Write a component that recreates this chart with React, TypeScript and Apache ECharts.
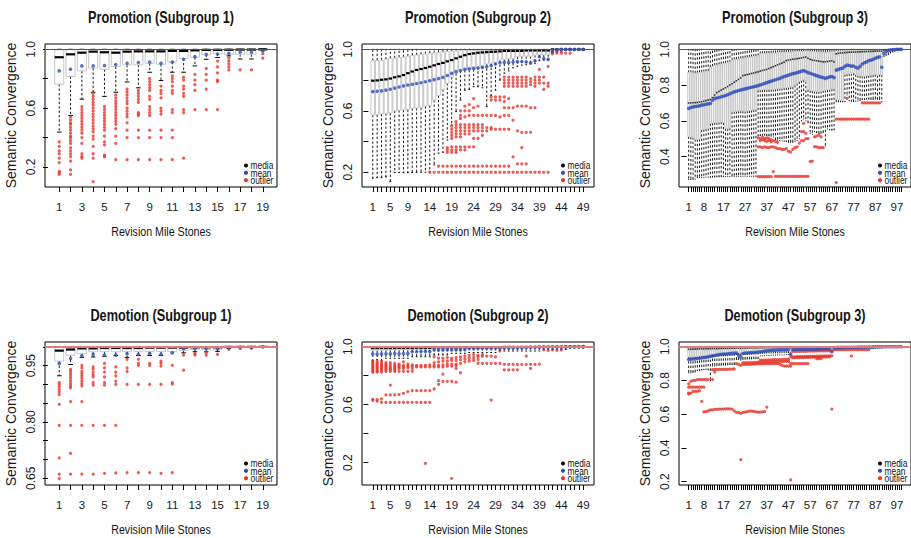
import React, { useEffect, useRef } from "react";
import * as echarts from "echarts";

// ---------------- text ----------------
const TITLES = [
  "Promotion (Subgroup 1)", "Promotion (Subgroup 2)", "Promotion (Subgroup 3)",
  "Demotion (Subgroup 1)", "Demotion (Subgroup 2)", "Demotion (Subgroup 3)",
];
const X_TITLE = "Revision Mile Stones";
const Y_TITLE = "Semantic Convergence";
const LEGEND_ITEMS = ["median", "mean", "outlier"];

// ---------------- axis ticks ----------------
const X_LABELS_19 = [1, 3, 5, 7, 9, 11, 13, 15, 17, 19];
const X_LABELS_49 = [1, 5, 9, 14, 19, 24, 29, 34, 39, 44, 49];
const X_LABELS_99 = [1, 8, 17, 27, 37, 47, 57, 67, 77, 87, 97];
const Y_TICKS_02 = [0.2, 0.4, 0.6, 0.8, 1.0];
const Y_LABELS_02_SPARSE = [0.2, 0.6, 1.0];
const Y_TICKS_P3 = [0.4, 0.6, 0.8, 1.0];
const Y_TICKS_P4 = [0.65, 0.7, 0.75, 0.8, 0.85, 0.9, 0.95, 1.0];
const Y_LABELS_P4 = [0.65, 0.8, 0.95];

// upper whiskers reach 1.0 in every box of every panel
const UPPER_WHISKER = 1.0;
const REFERENCE_LEVEL = 1.0;

// ---------------- Promotion (Subgroup 1) ----------------
const P1_LOW = [0.437, 0.55, 0.661, 0.708, 0.68, 0.708, 0.778, 0.738, 0.844, 0.788, 0.844, 0.844, 0.887, 0.932, 0.944, 0.955, 0.934, 0.934, 0.99];
const P1_Q1 = [0.763, 0.815, 0.853, 0.873, 0.864, 0.882, 0.894, 0.894, 0.905, 0.898, 0.914, 0.937, 0.946, 0.962, 0.97, 0.966, 0.966, 0.966, 0.993];
const P1_MED = [0.946, 0.966, 0.977, 0.984, 0.98, 0.977, 0.984, 0.986, 0.986, 0.986, 0.989, 0.989, 0.993, 0.996, 0.996, 0.997, 0.998, 0.998, 1.0];
const P1_Q3 = [0.996, 0.997, 0.998, 0.998, 0.998, 0.998, 0.999, 0.999, 0.999, 0.999, 1, 1, 1, 1, 1, 1, 1, 1, 1];
const P1_MEAN = [0.853, 0.864, 0.887, 0.887, 0.89, 0.896, 0.905, 0.91, 0.914, 0.905, 0.914, 0.932, 0.95, 0.966, 0.968, 0.973, 0.98, 0.98, 0.99];
const P1_OUT = [
  [0.37, 0.34, 0.31, 0.29, 0.26, 0.23, 0.17, 0.16, 0.15],
  [0.54, 0.52, 0.5, 0.49, 0.47, 0.45, 0.43, 0.41, 0.4, 0.38, 0.36, 0.33, 0.31, 0.29, 0.27, 0.24, 0.18, 0.15],
  [0.61, 0.59, 0.57, 0.55, 0.53, 0.51, 0.49, 0.47, 0.45, 0.43, 0.4, 0.36, 0.29, 0.27, 0.26],
  [0.7, 0.68, 0.66, 0.64, 0.62, 0.6, 0.58, 0.56, 0.54, 0.52, 0.5, 0.48, 0.46, 0.44, 0.41, 0.39, 0.34, 0.29, 0.26, 0.1],
  [0.61, 0.59, 0.57, 0.55, 0.53, 0.51, 0.49, 0.47, 0.45, 0.41, 0.37, 0.35, 0.28, 0.27],
  [0.69, 0.67, 0.65, 0.63, 0.61, 0.59, 0.57, 0.55, 0.53, 0.51, 0.49, 0.46, 0.41, 0.36, 0.25],
  [0.73, 0.71, 0.69, 0.67, 0.65, 0.63, 0.6, 0.58, 0.56, 0.54, 0.5, 0.45, 0.4, 0.25],
  [0.72, 0.7, 0.68, 0.66, 0.64, 0.57, 0.56, 0.55, 0.45, 0.4, 0.25],
  [0.8, 0.78, 0.76, 0.74, 0.72, 0.68, 0.66, 0.61, 0.59, 0.57, 0.55, 0.45, 0.4, 0.25],
  [0.75, 0.72, 0.7, 0.67, 0.6, 0.58, 0.56, 0.45, 0.4, 0.25],
  [0.82, 0.8, 0.78, 0.75, 0.72, 0.7, 0.59, 0.57, 0.45, 0.4, 0.25],
  [0.81, 0.79, 0.75, 0.73, 0.7, 0.68, 0.59, 0.57, 0.26],
  [0.83, 0.79, 0.76, 0.72, 0.59],
  [0.87, 0.83, 0.79, 0.73, 0.59],
  [0.92, 0.88, 0.84, 0.79, 0.78, 0.59],
  [0.94, 0.92, 0.9, 0.88, 0.86],
  [0.86],
  [0.86],
  [0.97, 0.94],
];

// ---------------- Promotion (Subgroup 2) ----------------
const P2_LOW = [0.161, 0.165, 0.165, 0.17, 0.139, 0.198, 0.198, 0.198, 0.198, 0.198, 0.2, 0.2, 0.2, 0.202, 0.248, 0.324, 0.33, 0.41, 0.508, 0.595, 0.67, 0.735, 0.74, 0.757, 0.757, 0.75, 0.627, 0.7, 0.735, 0.8, 0.845, 0.86, 0.88, 0.89, 0.898, 0.9, 0.905, 0.91, 0.926, 0.93, 0.935, 0.99, 1, 1, 1, 1, 1, 1, 1];
const P2_Q1 = [0.573, 0.575, 0.58, 0.584, 0.586, 0.6, 0.604, 0.606, 0.61, 0.616, 0.618, 0.62, 0.63, 0.635, 0.67, 0.7, 0.74, 0.78, 0.82, 0.844, 0.86, 0.865, 0.866, 0.87, 0.885, 0.89, 0.905, 0.91, 0.915, 0.93, 0.935, 0.94, 0.94, 0.952, 0.955, 0.955, 0.955, 0.963, 0.965, 0.965, 0.968, 0.995, 1, 1, 1, 1, 1, 1, 1];
const P2_MED = [0.796, 0.798, 0.802, 0.805, 0.81, 0.818, 0.824, 0.833, 0.845, 0.856, 0.866, 0.872, 0.879, 0.887, 0.896, 0.905, 0.912, 0.922, 0.93, 0.942, 0.952, 0.962, 0.97, 0.974, 0.978, 0.98, 0.982, 0.984, 0.985, 0.987, 0.99, 0.99, 0.99, 0.99, 0.99, 0.993, 0.993, 0.993, 0.993, 0.993, 0.993, 1, 1, 1, 1, 1, 1, 1, 1];
const P2_Q3 = [0.926, 0.928, 0.93, 0.935, 0.94, 0.943, 0.947, 0.95, 0.955, 0.96, 0.963, 0.966, 0.97, 0.974, 0.977, 0.979, 0.982, 0.985, 0.988, 0.99, 0.993, 0.993, 0.993, 0.993, 0.993, 0.993, 0.993, 0.996, 0.996, 0.996, 0.996, 0.996, 0.996, 0.996, 0.996, 0.996, 0.996, 0.996, 0.996, 0.996, 0.996, 1, 1, 1, 1, 1, 1, 1, 1];
const P2_MEAN = [0.725, 0.727, 0.73, 0.735, 0.74, 0.748, 0.755, 0.762, 0.768, 0.773, 0.778, 0.783, 0.789, 0.796, 0.803, 0.81, 0.818, 0.83, 0.844, 0.855, 0.862, 0.87, 0.874, 0.876, 0.879, 0.883, 0.887, 0.895, 0.905, 0.913, 0.915, 0.915, 0.918, 0.92, 0.921, 0.918, 0.913, 0.926, 0.952, 0.94, 0.935, 0.985, 0.995, 1, 1, 1, 1, 1, 1];
const P2_OUT = [
  [], [], [], [], [], [], [], [], [], [], [], [], [],
  [0.2],
  [0.2],
  [0.24, 0.2],
  [0.24, 0.2],
  [0.36, 0.345, 0.33, 0.24, 0.2],
  [0.5, 0.48, 0.46, 0.44, 0.42, 0.365, 0.345, 0.33, 0.24, 0.2],
  [0.53, 0.51, 0.49, 0.47, 0.45, 0.43, 0.365, 0.345, 0.33, 0.24, 0.2],
  [0.6, 0.57, 0.55, 0.51, 0.49, 0.47, 0.45, 0.43, 0.365, 0.345, 0.24, 0.2],
  [0.63, 0.6, 0.56, 0.51, 0.49, 0.47, 0.45, 0.365, 0.345, 0.24, 0.2],
  [0.64, 0.6, 0.57, 0.51, 0.49, 0.47, 0.45, 0.365, 0.24, 0.2],
  [0.68, 0.62, 0.57, 0.51, 0.49, 0.47, 0.42, 0.365, 0.24, 0.2],
  [0.63, 0.57, 0.51, 0.49, 0.47, 0.42, 0.24, 0.2],
  [0.57, 0.51, 0.49, 0.47, 0.44, 0.24, 0.2],
  [0.57, 0.49, 0.47, 0.24, 0.2],
  [0.69, 0.67, 0.57, 0.49, 0.48, 0.24, 0.2],
  [0.69, 0.67, 0.57, 0.48, 0.24, 0.2],
  [0.69, 0.67, 0.56, 0.48, 0.24, 0.2],
  [0.82, 0.8, 0.78, 0.76, 0.69, 0.66, 0.62, 0.57, 0.48, 0.24, 0.2],
  [0.82, 0.8, 0.78, 0.76, 0.68, 0.62, 0.57, 0.48, 0.24, 0.2],
  [0.82, 0.8, 0.78, 0.76, 0.62, 0.54, 0.3, 0.2],
  [0.82, 0.8, 0.78, 0.76, 0.63, 0.47, 0.255, 0.2],
  [0.82, 0.8, 0.78, 0.76, 0.63, 0.46, 0.36, 0.255, 0.2],
  [0.82, 0.8, 0.78, 0.76, 0.63, 0.46, 0.255, 0.2],
  [0.81, 0.79, 0.77, 0.62, 0.46, 0.2],
  [0.82, 0.8, 0.78, 0.76, 0.62, 0.2],
  [0.87, 0.82, 0.8, 0.78, 0.2],
  [0.82, 0.78, 0.74, 0.2],
  [0.89, 0.78, 0.76, 0.2],
  [0.97, 0.98],
  [0.975, 0.985],
  [0.975, 0.985],
  [0.975],
  [0.975],
  [], [], [],
];

// ---------------- Promotion (Subgroup 3) ----------------
const P3_LOW = [
  0.272, 0.272, 0.273, 0.274, 0.283, 0.283, 0.284, 0.284, 0.285, 0.285,
  0.285, 0.286, 0.286, 0.287, 0.287, 0.288, 0.288, 0.288, 0.289, 0.289,
  0.29, 0.29, 0.29, 0.29, 0.29, 0.29, 0.29, 0.29, 0.29, 0.29, 0.29, 0.29,
  0.515, 0.518, 0.52, 0.52, 0.518, 0.516, 0.515, 0.51,
  0.495, 0.492, 0.49, 0.488, 0.486, 0.484, 0.48, 0.478,
  0.48, 0.485, 0.49, 0.5, 0.6, 0.61, 0.6, 0.59,
  0.53, 0.525, 0.54, 0.535, 0.53, 0.53, 0.535, 0.46,
  0.555, 0.55, 0.548, 0.55,
  0.707, 0.707, 0.707, 0.707,
  0.708, 0.745, 0.712, 0.71, 0.708, 0.71, 0.712, 0.714,
  0.72, 0.72, 0.722, 0.722, 0.72, 0.72, 0.722, 0.722, 0.72,
  0.707,
  0.96, 0.965, 0.97, 0.98, 0.985, 0.99, 0.995, 0.998, 1,
];
const P3_Q1 = [
  0.512, 0.51, 0.508, 0.497, 0.496, 0.498, 0.55, 0.552, 0.555, 0.558,
  0.586, 0.588, 0.59, 0.59, 0.592, 0.594, 0.59, 0.558, 0.556, 0.56,
  0.65, 0.652, 0.654, 0.655, 0.656, 0.655, 0.654, 0.656, 0.658, 0.66, 0.662, 0.664,
  0.772, 0.773, 0.774, 0.775, 0.774, 0.775, 0.776, 0.777, 0.778, 0.78, 0.782, 0.783, 0.785, 0.786, 0.788, 0.79,
  0.79, 0.8, 0.81, 0.82, 0.825, 0.83, 0.82, 0.775, 0.77, 0.768, 0.766, 0.765, 0.765, 0.766, 0.77, 0.772, 0.774, 0.776, 0.778, 0.78,
  0.72, 0.718, 0.716, 0.715, 0.86, 0.862, 0.864, 0.866, 0.868, 0.86, 0.855, 0.852, 0.85, 0.85, 0.852, 0.854, 0.856, 0.858, 0.86, 0.855, 0.86, 0.857,
  0.975, 0.98, 0.985, 0.99, 0.995, 0.997, 0.998, 0.999, 1,
];
const P3_MED = [
  0.7, 0.7, 0.701, 0.702, 0.703, 0.705, 0.707, 0.71, 0.713, 0.716,
  0.72, 0.73, 0.745, 0.758, 0.765, 0.772, 0.778, 0.785, 0.792, 0.8,
  0.808, 0.816, 0.824, 0.832, 0.84, 0.853, 0.856, 0.859, 0.862, 0.865, 0.868, 0.871,
  0.874, 0.878, 0.882, 0.885, 0.888, 0.893, 0.898, 0.903, 0.908, 0.913, 0.918, 0.923, 0.928, 0.937, 0.94, 0.942,
  0.945, 0.946, 0.948, 0.95, 0.952, 0.955, 0.957, 0.95, 0.944, 0.94, 0.938, 0.936, 0.934, 0.932, 0.93, 0.93, 0.932, 0.934, 0.936, 0.93,
  0.975, 0.978, 0.98, 0.98, 0.982, 0.983, 0.984, 0.984, 0.985, 0.985, 0.986, 0.986, 0.987, 0.987, 0.988, 0.988, 0.989, 0.989, 0.99, 0.99, 0.99, 0.99,
  0.996, 0.997, 0.998, 0.999, 1, 1, 1, 1, 1,
];
const P3_Q3 = [
  0.87, 0.87, 0.868, 0.866, 0.868, 0.87, 0.872, 0.874, 0.876, 0.878,
  0.9, 0.905, 0.91, 0.912, 0.915, 0.918, 0.92, 0.922, 0.925, 0.928,
  0.94, 0.942, 0.944, 0.946, 0.948, 0.95, 0.952, 0.954, 0.956, 0.958, 0.96, 0.962,
  0.964, 0.975, 0.976, 0.977, 0.978, 0.978, 0.979, 0.98, 0.98, 0.981, 0.982, 0.982, 0.983, 0.984, 0.984, 0.985,
  0.986, 0.986, 0.987, 0.988, 0.988, 0.989, 0.99, 0.99, 0.988, 0.987, 0.986, 0.985, 0.985, 0.984, 0.984, 0.983, 0.984, 0.985, 0.986, 0.986,
  0.99, 0.99, 0.991, 0.991, 0.992, 0.992, 0.993, 0.993, 0.994, 0.994, 0.994, 0.995, 0.995, 0.995, 0.996, 0.996, 0.996, 0.997, 0.997, 0.997, 0.998, 0.998,
  1, 1, 1, 1, 1, 1, 1, 1, 1,
];
const P3_MEAN = [
  0.67, 0.675, 0.678, 0.68, 0.682, 0.684, 0.688, 0.69, 0.693, 0.695,
  0.698, 0.715, 0.726, 0.728, 0.731, 0.735, 0.738, 0.742, 0.746, 0.752,
  0.757, 0.762, 0.766, 0.77, 0.773, 0.776, 0.779, 0.782, 0.785, 0.788, 0.791, 0.794,
  0.797, 0.801, 0.805, 0.81, 0.814, 0.818, 0.822, 0.826, 0.83, 0.834, 0.838, 0.843, 0.848, 0.852, 0.856, 0.86,
  0.864, 0.866, 0.87, 0.874, 0.878, 0.881, 0.876, 0.87, 0.866, 0.862, 0.857, 0.853, 0.849, 0.845, 0.842, 0.838, 0.842, 0.846, 0.848, 0.842,
  0.884, 0.888, 0.892, 0.895, 0.905, 0.912, 0.91, 0.906, 0.907, 0.9, 0.895, 0.905, 0.918, 0.925, 0.93, 0.937, 0.94, 0.944, 0.95, 0.955, 0.958, 0.9,
  0.978, 0.99, 0.994, 0.996, 0.998, 0.999, 1, 1, 1,
];
const P3_OUT = [
  [], [], [], [], [], [], [], [], [], [],
  [], [], [], [], [], [], [], [], [], [],
  [], [], [], [], [], [], [], [], [], [], [], [],
  [0.505, 0.455, 0.288],
  [0.5, 0.49, 0.455, 0.288],
  [0.51, 0.495, 0.45, 0.288],
  [0.5, 0.49, 0.455, 0.288],
  [0.505, 0.485, 0.452, 0.288],
  [0.5, 0.49, 0.45, 0.288],
  [0.495, 0.483, 0.455, 0.288],
  [0.49, 0.455, 0.316],
  [0.485, 0.45, 0.29],
  [0.48, 0.445, 0.29],
  [0.445, 0.29],
  [0.44, 0.29],
  [0.44, 0.29],
  [0.445, 0.29],
  [0.43, 0.29],
  [0.425, 0.29],
  [0.44, 0.29],
  [0.45, 0.29],
  [0.455, 0.29],
  [0.475, 0.29],
  [0.54, 0.49, 0.29],
  [0.586, 0.54, 0.49, 0.29],
  [0.53, 0.5, 0.29],
  [0.5, 0.29],
  [0.372],
  [0.375],
  [0.51, 0.456],
  [0.515, 0.455],
  [0.52, 0.45],
  [0.51, 0.45],
  [0.45],
  [], [], [], [], [],
  [0.61, 0.255],
  [0.61], [0.61], [0.61],
  [0.61],
  [0.726, 0.61],
  [0.61], [0.61], [0.61], [0.61], [0.61], [0.61],
  [0.7, 0.61], [0.7, 0.61], [0.7, 0.61], [0.7, 0.61],
  [0.7], [0.7], [0.7], [0.7], [0.7],
  [], [], [], [], [], [], [], [], [], [],
];

// ---------------- Demotion (Subgroup 1) ----------------
const P4_LOW = [0.923, 0.953, 0.972, 0.973, 0.975, 0.977, 0.972, 0.977, 0.977, 0.977, 0.987, 0.984, 0.987, 0.987, 0.988, 0.996, 0.998, 0.998, 0.999];
const P4_Q1 = [0.962, 0.978, 0.982, 0.987, 0.987, 0.987, 0.988, 0.988, 0.988, 0.988, 0.988, 0.99, 0.993, 0.993, 0.993, 0.998, 0.999, 0.999, 1.0];
const P4_MED = [0.99, 0.993, 0.996, 0.996, 0.997, 0.997, 0.997, 0.997, 0.998, 0.998, 0.998, 0.998, 0.999, 0.999, 0.999, 1, 1, 1, 1];
const P4_Q3 = [0.999, 0.999, 1, 1, 1, 1, 1, 1, 1, 1, 1, 1, 1, 1, 1, 1, 1, 1, 1];
const P4_MEAN = [0.956, 0.969, 0.976, 0.98, 0.978, 0.978, 0.982, 0.98, 0.982, 0.98, 0.984, 0.995, 0.996, 0.995, 0.995, 0.998, 0.999, 0.999, 1.0];
const P4_OUT = [
  [0.905, 0.9, 0.894, 0.887, 0.88, 0.873, 0.847, 0.791, 0.704, 0.661, 0.649],
  [0.94, 0.935, 0.929, 0.923, 0.916, 0.909, 0.902, 0.896, 0.891, 0.854, 0.791, 0.716, 0.661],
  [0.951, 0.944, 0.935, 0.929, 0.923, 0.916, 0.909, 0.902, 0.896, 0.854, 0.791, 0.661],
  [0.947, 0.941, 0.933, 0.926, 0.92, 0.905, 0.898, 0.791, 0.661],
  [0.956, 0.944, 0.933, 0.92, 0.905, 0.898, 0.791, 0.663],
  [0.947, 0.933, 0.923, 0.909, 0.9, 0.791, 0.664],
  [0.967, 0.944, 0.935, 0.9, 0.665],
  [0.967, 0.956, 0.951, 0.9, 0.665],
  [0.956, 0.951, 0.9, 0.665],
  [0.962, 0.956, 0.949, 0.9, 0.663],
  [0.951, 0.905, 0.901, 0.665],
  [0.978, 0.938],
  [0.982, 0.978],
  [0.985, 0.978],
  [0.98],
  [0.993],
  [0.996],
  [0.996],
  [],
];

// ---------------- Demotion (Subgroup 2) ----------------
const P5_LOW = [0.905, 0.91, 0.905, 0.92, 0.92, 0.92, 0.92, 0.92, 0.92, 0.93, 0.93, 0.93, 0.93, 0.93, 0.943, 0.943, 0.943, 0.943, 0.954, 0.954, 0.954, 0.954, 0.96, 0.96, 0.96, 0.96, 0.96, 0.96, 0.96, 0.975, 0.97, 0.97, 0.97, 0.97, 0.97, 0.97, 0.97, 0.97, 0.97, 0.98, 0.98, 0.98, 0.98, 0.98, 0.98, 0.99, 0.99, 0.99, 0.99];
const P5_Q1 = [0.975, 0.975, 0.975, 0.976, 0.976, 0.977, 0.977, 0.978, 0.978, 0.98, 0.98, 0.98, 0.981, 0.982, 0.985, 0.985, 0.985, 0.986, 0.986, 0.987, 0.987, 0.987, 0.99, 0.99, 0.99, 0.99, 0.99, 0.99, 0.99, 0.99, 0.991, 0.991, 0.991, 0.992, 0.992, 0.995, 0.995, 0.995, 0.995, 0.995, 0.996, 0.996, 0.997, 0.997, 0.998, 0.998, 0.999, 0.999, 1];
const P5_MED = [0.99, 0.99, 0.99, 0.99, 0.99, 0.99, 0.991, 0.991, 0.991, 0.991, 0.992, 0.992, 0.992, 0.992, 0.995, 0.995, 0.995, 0.995, 0.995, 0.995, 0.996, 0.996, 0.996, 0.996, 0.996, 0.996, 0.996, 0.997, 0.997, 0.997, 0.998, 0.998, 0.998, 0.998, 0.998, 0.998, 0.998, 0.998, 0.999, 0.999, 0.999, 0.999, 0.999, 0.999, 1, 1, 1, 1, 1];
const P5_Q3 = [0.998, 0.998, 0.998, 0.998, 0.998, 0.998, 0.998, 0.998, 0.998, 0.999, 0.999, 0.999, 0.999, 0.999, 0.999, 0.999, 0.999, 0.999, 1, 1, 1, 1, 1, 1, 1, 1, 1, 1, 1, 1, 1, 1, 1, 1, 1, 1, 1, 1, 1, 1, 1, 1, 1, 1, 1, 1, 1, 1, 1];
const P5_MEAN = [0.95, 0.948, 0.95, 0.951, 0.95, 0.952, 0.951, 0.952, 0.953, 0.966, 0.965, 0.966, 0.967, 0.966, 0.977, 0.976, 0.977, 0.978, 0.977, 0.978, 0.978, 0.979, 0.989, 0.988, 0.989, 0.989, 0.99, 0.989, 0.99, 0.989, 0.99, 0.99, 0.991, 0.991, 0.991, 0.994, 0.995, 0.995, 0.995, 0.996, 0.996, 0.997, 0.997, 0.997, 0.998, 0.998, 0.999, 0.999, 1];
const P5_OUT = [
  [0.9, 0.89, 0.88, 0.87, 0.86, 0.85, 0.84, 0.83, 0.825, 0.637, 0.63],
  [0.9, 0.89, 0.88, 0.87, 0.86, 0.85, 0.84, 0.83, 0.825, 0.635, 0.625],
  [0.895, 0.885, 0.875, 0.865, 0.855, 0.845, 0.835, 0.825, 0.64, 0.616],
  [0.89, 0.88, 0.87, 0.86, 0.85, 0.84, 0.83, 0.667, 0.616],
  [0.89, 0.875, 0.86, 0.85, 0.84, 0.83, 0.735, 0.667, 0.616],
  [0.885, 0.87, 0.86, 0.85, 0.84, 0.83, 0.667, 0.616],
  [0.88, 0.87, 0.86, 0.85, 0.83, 0.67, 0.616],
  [0.895, 0.87, 0.86, 0.85, 0.83, 0.678, 0.616],
  [0.88, 0.865, 0.855, 0.83, 0.69, 0.616],
  [0.875, 0.865, 0.85, 0.83, 0.697, 0.616],
  [0.87, 0.86, 0.697, 0.616],
  [0.87, 0.86, 0.697, 0.616],
  [0.87, 0.86, 0.697, 0.616, 0.195],
  [0.875, 0.86, 0.697, 0.616],
  [0.93, 0.89, 0.87, 0.86, 0.708],
  [0.92, 0.895, 0.87, 0.86, 0.765, 0.74],
  [0.92, 0.9, 0.875, 0.86, 0.81, 0.76],
  [0.925, 0.9, 0.88, 0.865, 0.76],
  [0.92, 0.905, 0.88, 0.865, 0.76, 0.092],
  [0.925, 0.905, 0.88, 0.87, 0.85, 0.755],
  [0.93, 0.91, 0.885, 0.82],
  [0.935, 0.915, 0.895],
  [0.94, 0.92, 0.9],
  [0.945, 0.925, 0.905],
  [0.94, 0.93, 0.91, 0.885],
  [0.945, 0.935, 0.885],
  [0.935, 0.885],
  [0.935, 0.885, 0.632],
  [0.93, 0.885],
  [0.97, 0.885],
  [0.878, 0.84],
  [0.878, 0.84],
  [0.878, 0.84],
  [0.878, 0.84],
  [0.878],
  [0.935, 0.878],
  [0.878, 0.85],
  [0.878],
  [0.88],
  [0.977],
  [0.975],
  [0.977],
  [0.975],
  [0.977],
  [], [], [], [], [],
];

// ---------------- Demotion (Subgroup 3) ----------------
const P6_LOW = [
  0.845, 0.845, 0.848, 0.85, 0.858, 0.86, 0.862, 0.864, 0.866, 0.862, 0.8,
  0.885, 0.885, 0.888, 0.89, 0.89, 0.892, 0.892, 0.893, 0.894, 0.894, 0.895,
  0.925, 0.924, 0.92, 0.925, 0.926, 0.927, 0.928, 0.928, 0.929, 0.93, 0.93,
  0.945, 0.946, 0.947, 0.948, 0.948, 0.949, 0.95, 0.95, 0.951, 0.951, 0.952, 0.952, 0.953, 0.953, 0.954,
  0.976, 0.977, 0.977, 0.978, 0.978, 0.978, 0.979, 0.979, 0.979, 0.98,
  0.978, 0.978, 0.979, 0.979, 0.98, 0.98, 0.98, 0.981, 0.981,
  0.985, 0.985, 0.986, 0.986, 0.986, 0.987, 0.987, 0.987, 0.988, 0.988, 0.988, 0.988, 0.989, 0.989, 0.989, 0.99, 0.99, 0.99, 0.99,
  0.993, 0.994, 0.995, 0.996, 0.997, 0.998, 0.999, 1, 1, 1, 1, 1, 1,
];
const P6_Q1 = [
  0.94, 0.94, 0.94, 0.942, 0.943, 0.945, 0.946, 0.947, 0.948, 0.95, 0.95,
  0.955, 0.955, 0.956, 0.956, 0.957, 0.957, 0.958, 0.958, 0.959, 0.959, 0.96,
  0.965, 0.965, 0.962, 0.965, 0.966, 0.966, 0.967, 0.967, 0.968, 0.968, 0.968,
  0.972, 0.972, 0.973, 0.973, 0.974, 0.974, 0.974, 0.975, 0.975, 0.975, 0.976, 0.976, 0.976, 0.976, 0.97,
  0.985, 0.985, 0.985, 0.986, 0.986, 0.986, 0.987, 0.987, 0.987, 0.987,
  0.988, 0.988, 0.988, 0.988, 0.989, 0.989, 0.989, 0.989, 0.985,
  0.992, 0.992, 0.993, 0.993, 0.993, 0.994, 0.994, 0.994, 0.994, 0.995, 0.995, 0.995, 0.995, 0.996, 0.996, 0.996, 0.996, 0.997, 0.997,
  0.998, 0.998, 0.998, 0.999, 0.999, 0.999, 1, 1, 1, 1, 1, 1, 1,
];
const P6_MED = [
  0.985, 0.985, 0.986, 0.986, 0.986, 0.987, 0.987, 0.987, 0.988, 0.988, 0.988,
  0.989, 0.989, 0.989, 0.99, 0.99, 0.99, 0.99, 0.99, 0.991, 0.991, 0.991,
  0.992, 0.992, 0.99, 0.992, 0.992, 0.993, 0.993, 0.993, 0.993, 0.993, 0.994,
  0.994, 0.994, 0.994, 0.995, 0.995, 0.995, 0.995, 0.995, 0.995, 0.996, 0.996, 0.996, 0.996, 0.996, 0.994,
  0.996, 0.997, 0.997, 0.997, 0.997, 0.997, 0.997, 0.998, 0.998, 0.998,
  0.998, 0.998, 0.998, 0.998, 0.998, 0.998, 0.998, 0.998, 0.997,
  0.999, 0.999, 0.999, 0.999, 0.999, 0.999, 0.999, 0.999, 0.999, 0.999, 1, 1, 1, 1, 1, 1, 1, 1, 1,
  1, 1, 1, 1, 1, 1, 1, 1, 1, 1, 1, 1, 1,
];
const P6_Q3 = [
  0.999, 0.999, 0.999, 0.999, 0.999, 0.999, 0.999, 0.999, 0.999, 0.999, 0.999,
  0.999, 0.999, 0.999, 0.999, 0.999, 0.999, 0.999, 0.999, 0.999, 0.999, 0.999,
  1, 1, 1, 1, 1, 1, 1, 1, 1, 1, 1,
  1, 1, 1, 1, 1, 1, 1, 1, 1, 1, 1, 1, 1, 1, 1,
  1, 1, 1, 1, 1, 1, 1, 1, 1, 1,
  1, 1, 1, 1, 1, 1, 1, 1, 1,
  1, 1, 1, 1, 1, 1, 1, 1, 1, 1, 1, 1, 1, 1, 1, 1, 1, 1, 1,
  1, 1, 1, 1, 1, 1, 1, 1, 1, 1, 1, 1, 1,
];
const P6_MEAN = [
  0.925, 0.926, 0.927, 0.928, 0.93, 0.932, 0.933, 0.935, 0.937, 0.94, 0.943,
  0.946, 0.948, 0.951, 0.954, 0.955, 0.956, 0.957, 0.958, 0.96, 0.961, 0.962,
  0.962, 0.95, 0.94, 0.96, 0.962, 0.963, 0.964, 0.965, 0.966, 0.967, 0.968,
  0.97, 0.972, 0.974, 0.976, 0.978, 0.979, 0.98, 0.98, 0.981, 0.981, 0.982, 0.982, 0.982, 0.983, 0.955,
  0.984, 0.984, 0.985, 0.985, 0.985, 0.986, 0.986, 0.986, 0.986, 0.987,
  0.987, 0.987, 0.987, 0.988, 0.988, 0.988, 0.988, 0.989, 0.97,
  0.995, 0.995, 0.996, 0.996, 0.996, 0.996, 0.997, 0.997, 0.997, 0.997, 0.997, 0.998, 0.998, 0.998, 0.998, 0.998, 0.998, 0.998, 0.999,
  0.999, 0.999, 0.999, 0.999, 1, 1, 1, 1, 1, 1, 1, 1, 1,
];
const P6_OUT = [
  [0.78, 0.76, 0.725, 0.72],
  [0.795, 0.76, 0.725],
  [0.8, 0.76, 0.735],
  [0.8, 0.76, 0.735],
  [0.805, 0.76, 0.735],
  [0.805, 0.76, 0.74],
  [0.805, 0.76, 0.676],
  [0.805, 0.76, 0.613],
  [0.805, 0.615],
  [0.805, 0.62],
  [0.625],
  [0.864, 0.805, 0.625],
  [0.865, 0.85, 0.628],
  [0.865, 0.628],
  [0.865, 0.63],
  [0.866, 0.63],
  [0.866, 0.63],
  [0.866, 0.632],
  [0.866, 0.632],
  [0.867, 0.632],
  [0.867, 0.63],
  [0.868, 0.62],
  [0.9, 0.61],
  [0.895, 0.61],
  [0.89, 0.605, 0.33],
  [0.905, 0.895, 0.61],
  [0.905, 0.895, 0.612],
  [0.905, 0.895, 0.615],
  [0.906, 0.896, 0.618],
  [0.906, 0.896, 0.618],
  [0.907, 0.897, 0.616],
  [0.907, 0.897, 0.614],
  [0.908, 0.898, 0.612],
  [0.92, 0.908, 0.898, 0.612],
  [0.92, 0.909, 0.898, 0.613],
  [0.921, 0.909, 0.899, 0.615],
  [0.921, 0.91, 0.9, 0.642],
  [0.922, 0.91, 0.9],
  [0.922, 0.91, 0.9],
  [0.923, 0.911, 0.9],
  [0.923, 0.911, 0.9],
  [0.924, 0.912, 0.9],
  [0.924, 0.912, 0.895],
  [0.925, 0.912, 0.89],
  [0.925, 0.913, 0.885],
  [0.925, 0.913, 0.885],
  [0.926, 0.913, 0.885],
  [0.94, 0.9, 0.885, 0.21],
  [0.972, 0.94, 0.935, 0.9],
  [0.972, 0.94, 0.935, 0.9],
  [0.972, 0.941, 0.935, 0.9],
  [0.973, 0.941, 0.936, 0.9],
  [0.973, 0.941, 0.936, 0.9],
  [0.973, 0.942, 0.936, 0.9],
  [0.973, 0.942, 0.937, 0.9],
  [0.974, 0.942, 0.937, 0.9],
  [0.974, 0.943, 0.937],
  [0.974, 0.943, 0.938],
  [0.974, 0.943, 0.938],
  [0.975, 0.944, 0.938, 0.93],
  [0.975, 0.944, 0.938, 0.93],
  [0.975, 0.944, 0.939, 0.93],
  [0.975, 0.945, 0.939],
  [0.976, 0.945, 0.939],
  [0.976, 0.945, 0.94],
  [0.976, 0.946, 0.94],
  [0.976, 0.946, 0.63],
  [0.982], [0.982], [0.982], [0.982], [0.982], [0.982], [0.982], [0.982],
  [0.982, 0.945],
  [0.982], [0.982], [0.982], [0.982], [0.982], [0.982], [0.982], [0.982],
  [], [], [], [], [], [], [], [], [], [], [], [], [], [], [],
];

// ---------------- styling ----------------
const FONT = '"Liberation Sans", Arial, Helvetica, sans-serif';
const H_SCALE = 0.77; // the reference's horizontal text is condensed
const RED = "#e8352c";
const BLUE = "#2f4cba";
const BOX_GREY = "#c6c6c6";
const PLOT_W = 232;
const PLOT_H = 143;

type Panel = {
  title: string; left: number; top: number; n: number;
  yMin: number; yMax: number; yTicks: number[]; yLabels: number[]; yDec: number;
  xLabels: number[];
  low: number[]; q1: number[]; med: number[]; q3: number[]; mean: number[]; out: number[][];
  refColor: string; refWidth: number;
};

const PANELS: Panel[] = [
  { title: TITLES[0], left: 45, top: 44, n: 19, yMin: 0.064, yMax: 1.036, yTicks: Y_TICKS_02, yLabels: Y_LABELS_02_SPARSE, yDec: 1, xLabels: X_LABELS_19,
    low: P1_LOW, q1: P1_Q1, med: P1_MED, q3: P1_Q3, mean: P1_MEAN, out: P1_OUT, refColor: "#b22a2a", refWidth: 1 },
  { title: TITLES[1], left: 362, top: 44, n: 49, yMin: 0.104, yMax: 1.035, yTicks: Y_TICKS_02, yLabels: Y_LABELS_02_SPARSE, yDec: 1, xLabels: X_LABELS_49,
    low: P2_LOW, q1: P2_Q1, med: P2_MED, q3: P2_Q3, mean: P2_MEAN, out: P2_OUT, refColor: "#b22a2a", refWidth: 1 },
  { title: TITLES[2], left: 679, top: 44, n: 99, yMin: 0.23, yMax: 1.03, yTicks: Y_TICKS_P3, yLabels: Y_TICKS_P3, yDec: 1, xLabels: X_LABELS_99,
    low: P3_LOW, q1: P3_Q1, med: P3_MED, q3: P3_Q3, mean: P3_MEAN, out: P3_OUT, refColor: "#b22a2a", refWidth: 1 },
  { title: TITLES[3], left: 45, top: 342, n: 19, yMin: 0.632, yMax: 1.013, yTicks: Y_TICKS_P4, yLabels: Y_LABELS_P4, yDec: 2, xLabels: X_LABELS_19,
    low: P4_LOW, q1: P4_Q1, med: P4_MED, q3: P4_Q3, mean: P4_MEAN, out: P4_OUT, refColor: "#e27b7b", refWidth: 2 },
  { title: TITLES[4], left: 362, top: 342, n: 49, yMin: 0.046, yMax: 1.032, yTicks: Y_TICKS_02, yLabels: Y_LABELS_02_SPARSE, yDec: 1, xLabels: X_LABELS_49,
    low: P5_LOW, q1: P5_Q1, med: P5_MED, q3: P5_Q3, mean: P5_MEAN, out: P5_OUT, refColor: "#e27b7b", refWidth: 2 },
  { title: TITLES[5], left: 679, top: 342, n: 99, yMin: 0.18, yMax: 1.028, yTicks: Y_TICKS_02, yLabels: Y_TICKS_02, yDec: 1, xLabels: X_LABELS_99,
    low: P6_LOW, q1: P6_Q1, med: P6_MED, q3: P6_Q3, mean: P6_MEAN, out: P6_OUT, refColor: "#e27b7b", refWidth: 2 },
];

const renderBox = (_params: any, api: any) => {
  const x = api.value(0);
  const lo = api.coord([x, api.value(1)]);
  const q1 = api.coord([x, api.value(2)]);
  const md = api.coord([x, api.value(3)]);
  const q3 = api.coord([x, api.value(4)]);
  const hi = api.coord([x, api.value(5)]);
  const unit = api.size([1, 0])[0];
  const bw = unit * 0.8;
  const sw = unit * 0.4;
  const cx = lo[0];
  const dense = unit < 3;
  const dash = { stroke: "#000", lineWidth: 0.9, lineDash: [2.4, 2] };
  const solid = { stroke: "#000", lineWidth: 1 };
  return {
    type: "group",
    children: [
      { type: "line", shape: { x1: cx, y1: q1[1], x2: cx, y2: lo[1] }, style: dash },
      { type: "line", shape: { x1: cx, y1: q3[1], x2: cx, y2: hi[1] }, style: dash },
      { type: "line", shape: { x1: cx - sw / 2, y1: lo[1], x2: cx + sw / 2, y2: lo[1] }, style: solid },
      { type: "line", shape: { x1: cx - sw / 2, y1: hi[1], x2: cx + sw / 2, y2: hi[1] }, style: solid },
      { type: "rect", shape: { x: cx - bw / 2, y: q3[1], width: bw, height: Math.max(q1[1] - q3[1], 0.5) }, style: { fill: "#fff", stroke: BOX_GREY, lineWidth: 1 } },
      { type: "line", shape: { x1: cx - bw / 2, y1: md[1], x2: cx + bw / 2, y2: md[1] }, style: { stroke: dense ? "#333" : "#000", lineWidth: dense ? 1.6 : 2.2 } },
    ],
  };
};

function hText(text: string, x: number, y: number, size: number, weight: string, align: string, scale: number, extra: any = {}) {
  return {
    type: "text", x, y, scaleX: scale, z: 10,
    style: {
      text, font: `${weight} ${size}px ${FONT}`, fill: "#151515",
      align, verticalAlign: "middle", textAlign: align, textVerticalAlign: "middle", ...extra,
    },
  };
}

function buildOption() {
  const grid: any[] = [];
  const xAxis: any[] = [];
  const yAxis: any[] = [];
  const series: any[] = [];
  const graphic: any[] = [];

  PANELS.forEach((p, i) => {
    grid.push({ left: p.left, top: p.top, width: PLOT_W, height: PLOT_H, show: true, borderColor: "#000", borderWidth: 1, backgroundColor: "rgba(0,0,0,0)" });
    const pad = 0.04 * p.n;
    const ticks: number[] = [];
    for (let k = 1; k <= p.n; k++) ticks.push(k);
    xAxis.push({
      type: "value", gridIndex: i, min: 0.5 - pad, max: p.n + 0.5 + pad,
      splitLine: { show: false }, axisLine: { show: false },
      axisTick: { show: true, length: 5, customValues: ticks, lineStyle: { color: "#000", width: 1 } },
      axisLabel: { customValues: p.xLabels, margin: 14, fontFamily: FONT, fontSize: 11.5, color: "#1a1a1a", formatter: (v: number) => String(v) },
    });
    yAxis.push({
      type: "value", gridIndex: i, min: p.yMin, max: p.yMax,
      splitLine: { show: false }, axisLine: { show: false },
      axisTick: { show: true, length: 5, customValues: p.yTicks, lineStyle: { color: "#000", width: 1 } },
      axisLabel: { customValues: p.yLabels, rotate: 90, margin: 8, fontFamily: FONT, fontSize: 12, color: "#1a1a1a", formatter: (v: number) => v.toFixed(p.yDec) },
      name: Y_TITLE, nameLocation: "middle", nameGap: 27,
      nameTextStyle: { fontFamily: FONT, fontSize: 14, color: "#1a1a1a" },
    });

    const boxes = p.low.map((lo, k) => [k + 1, lo, p.q1[k], p.med[k], p.q3[k], UPPER_WHISKER]);
    const outs: number[][] = [];
    p.out.forEach((vals, k) => vals.forEach((v) => outs.push([k + 1, v])));
    const means = p.mean.map((m, k) => [k + 1, m]);

    series.push({
      type: "custom", xAxisIndex: i, yAxisIndex: i, renderItem: renderBox, data: boxes,
      encode: { x: 0, y: [1, 2, 3, 4, 5] }, silent: true, z: 2,
    });
    series.push({
      type: "scatter", xAxisIndex: i, yAxisIndex: i, data: outs, symbol: "circle", symbolSize: 3.2,
      itemStyle: { color: RED }, silent: true, z: 3,
      markLine: {
        silent: true, symbol: ["none", "none"], label: { show: false },
        lineStyle: { color: p.refColor, width: p.refWidth, type: "solid" },
        data: [{ yAxis: REFERENCE_LEVEL }],
      },
    });
    series.push({
      type: "scatter", xAxisIndex: i, yAxisIndex: i, data: means, symbol: "circle", symbolSize: 3.6,
      itemStyle: { color: BLUE }, silent: true, z: 4,
    });

    const cx = p.left + PLOT_W / 2;
    const right = p.left + PLOT_W;
    const bottom = p.top + PLOT_H;
    graphic.push(hText(p.title, cx, p.top - 27, 16.5, "bold", "center", H_SCALE));
    graphic.push(hText(X_TITLE, cx, bottom + 45, 13.5, "normal", "center", 0.79));
    const colors = ["#111", BLUE, RED];
    const rows = [21.5, 14.2, 6.8];
    LEGEND_ITEMS.forEach((label, k) => {
      graphic.push({ type: "circle", shape: { cx: right - 31, cy: bottom - rows[k], r: 2.1 }, style: { fill: colors[k] }, z: 10 });
      graphic.push(hText(label, right - 26.5, bottom - rows[k], 10.5, "normal", "left", 0.8,
        { width: 33, overflow: "truncate", ellipsis: "", lineHeight: 7 }));
    });
  });

  return { animation: false, backgroundColor: "#fff", grid, xAxis, yAxis, series, graphic };
}

export default function App() {
  const ref = useRef<HTMLDivElement>(null);
  useEffect(() => {
    if (!ref.current) return;
    const chart = echarts.init(ref.current, undefined, { renderer: "svg" });
    chart.setOption(buildOption() as any);
    return () => chart.dispose();
  }, []);
  return <div ref={ref} style={{ position: "absolute", left: 0, top: 0, width: 911, height: 538 }} />;
}
